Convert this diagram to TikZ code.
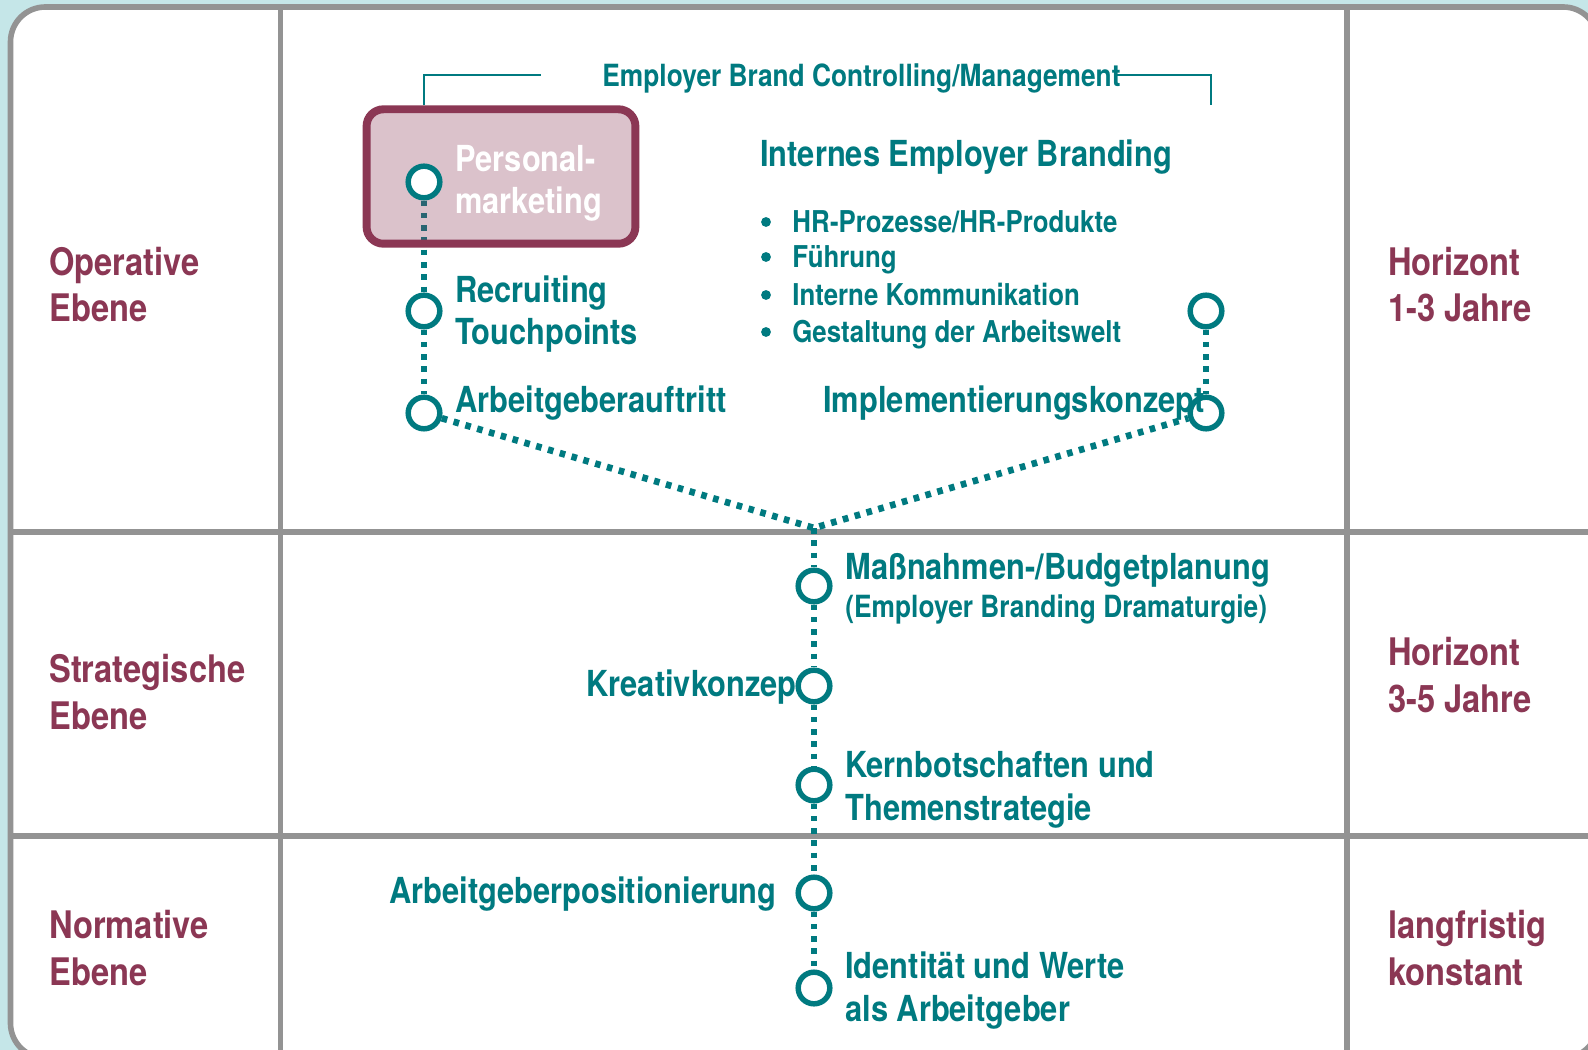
\documentclass[tikz,border=0pt]{standalone}
\usepackage{fontspec}
\setmainfont{TeX Gyre Heros}[FakeStretch=0.86]
\usetikzlibrary{backgrounds}

\definecolor{ebTeal}{RGB}{0,122,128}
\definecolor{ebWine}{RGB}{139,55,84}
\definecolor{ebSky}{RGB}{197,230,232}
\definecolor{ebGrid}{RGB}{147,147,147}

% two-line labels are anchored at the baseline of their last line
\tikzset{
  ebene/.style={text=ebWine, font=\fontsize{21.6}{26.6}\selectfont\bfseries, anchor=base west, align=left, inner sep=0pt},
  stage/.style={text=ebTeal, font=\fontsize{20.4}{24.4}\selectfont\bfseries, anchor=base west, align=left, inner sep=0pt},
  note/.style={text=ebTeal, font=\fontsize{17.4}{21}\selectfont\bfseries, anchor=base west, inner sep=0pt},
  item/.style={text=ebTeal, font=\fontsize{17.1}{21}\selectfont\bfseries, anchor=base west, inner sep=0pt},
  dot/.style={circle, fill=ebTeal, minimum size=5.6pt, inner sep=0pt},
  ring/.style={circle, draw=ebTeal, line width=3.1pt, fill=white, minimum size=18pt, inner sep=0pt},
  trail/.style={ebTeal, line width=3.8pt, dash pattern=on 3.2pt off 3.8pt},
  bracket/.style={ebTeal, line width=1.1pt},
  pmbox/.style={draw=ebWine, line width=4.5pt, fill=ebWine, fill opacity=0.3, rounded corners=9.6pt,
    minimum width=153pt, minimum height=76.5pt, inner sep=0pt},
  grid line/.style={ebGrid, line width=3.2pt}
}

\begin{document}
\begin{tikzpicture}[x=0.02cm, y=-0.02cm]
\useasboundingbox (0,0) rectangle (1588,1050);

% frame and level grid
\begin{scope}[on background layer]
  \clip (0,0) rectangle (1588,1050);
  \fill[ebSky] (0,0) rectangle (1588,1050);
  \draw[grid line, fill=white, rounded corners=19.8pt] (10.5,7) rectangle (1598,1058);
  \draw[grid line] (280.5,7) -- (280.5,1058);
  \draw[grid line] (1347,7) -- (1347,1058);
  \draw[grid line] (10.5,532) -- (1598,532);
  \draw[grid line] (10.5,836) -- (1598,836);
\end{scope}

% level names and horizons
\node[ebene] (opl) at (49,322) {Operative\\Ebene};
\node[ebene] (stl) at (49,729) {Strategische\\Ebene};
\node[ebene] (nol) at (49,985) {Normative\\Ebene};
\node[ebene] (oph) at (1388,322) {Horizont\\1-3 Jahre};
\node[ebene] (sth) at (1388,712) {Horizont\\3-5 Jahre};
\node[ebene] (noh) at (1388,985) {langfristig\\konstant};

% Personalmarketing box
\node[pmbox] (pm) at (501,176.5) {};
\node[stage, text=white] (pmtxt) at (455,214) {Personal-\\marketing};

\node[stage] (kreativ) at (586,696) {Kreativkonzep};

% stations
\node[ring] (c1) at (424,182) {};
\node[ring] (c2) at (424,311) {};
\node[ring] (c3) at (424,413) {};
\node[ring] (c4) at (1206,311) {};
\node[ring] (c5) at (1206,413) {};
\node[ring] (c6) at (814,586) {};
\node[ring] (c7) at (814,686) {};
\node[ring] (c8) at (814,785) {};
\node[ring] (c9) at (814,893) {};
\node[ring] (c10) at (814,988) {};
\coordinate (jn) at (814,528);

\node[stage] (recr) at (455,345) {Recruiting\\Touchpoints};
\node[stage] (auft) at (455,413) {Arbeitgeberauftritt};
\node[stage] (impl) at (823,413) {Implementierungskonzept};
\node[stage] (intern) at (760,167) {Internes Employer Branding};
\node[note] (ctrl) at (602,87) {Employer Brand Controlling/Management};

\node[dot] (b1) at (766,222) {};
\node[dot] (b2) at (766,257) {};
\node[dot] (b3) at (766,295) {};
\node[dot] (b4) at (766,332) {};
\node[item] (i1) at (792,233) {HR-Prozesse/HR-Produkte};
\node[item] (i2) at (792,268) {Führung};
\node[item] (i3) at (792,306) {Interne Kommunikation};
\node[item] (i4) at (792,343) {Gestaltung der Arbeitswelt};

\node[stage] (massn) at (845,579) {Maßnahmen-/Budgetplanung};
\node[note] (dram) at (845,617) {(Employer Branding Dramaturgie)};
\node[stage] (kern) at (845,820) {Kernbotschaften und\\Themenstrategie};
\node[stage, anchor=base east] (posi) at (777,903) {Arbeitgeberpositionierung};
\node[stage] (ident) at (845,1021) {Identität und Werte\\als Arbeitgeber};

% controlling bracket
\draw[bracket] (c1 |- pm.north) |- ([xshift=-35pt,yshift=2pt]ctrl.west);
\draw[bracket] ([xshift=-4pt,yshift=2pt]ctrl.east) -| ([xshift=3pt]c5 |- pm.north);

% dotted connections
\begin{scope}[on background layer]
  \draw[trail] (c1) -- (c2);
  \draw[trail] (c2) -- (c3);
  \draw[trail] (c4) -- (c5);
  \draw[trail] (c3) -- (jn) -- (c5);
  \draw[trail] (jn) -- (c6);
  \draw[trail] (c6) -- (c7);
  \draw[trail] (c7) -- (c8);
  \draw[trail] (c8) -- (c9);
  \draw[trail] (c9) -- (c10);
\end{scope}
\end{tikzpicture}
\end{document}
